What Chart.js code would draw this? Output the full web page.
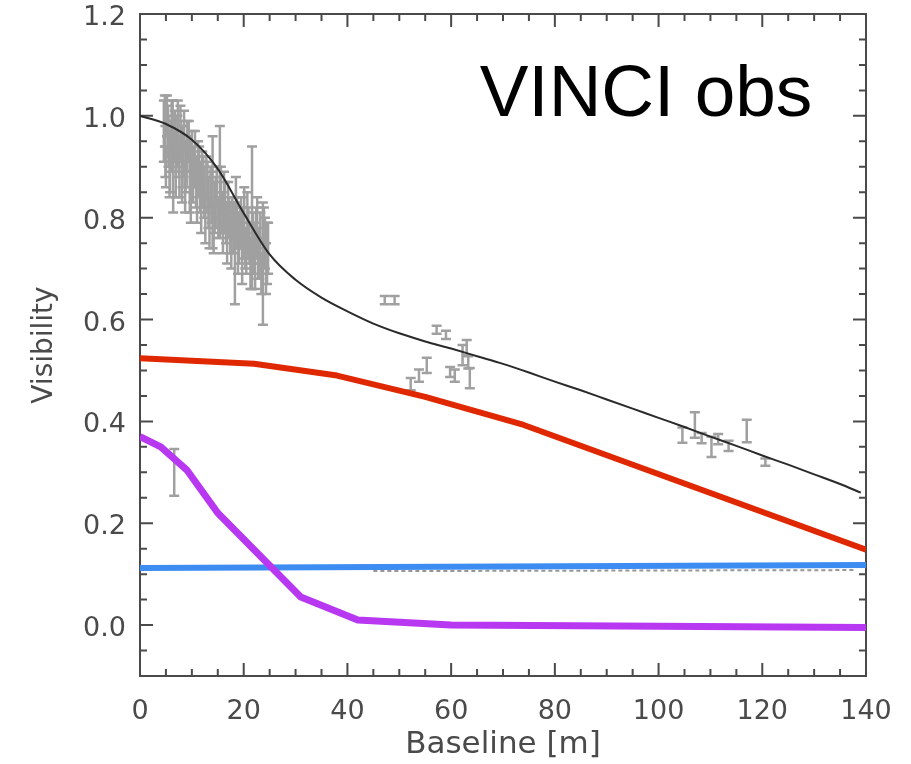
<!DOCTYPE html>
<html>
<head>
<meta charset="utf-8">
<script src="https://cdn.jsdelivr.net/npm/chart.js@4.4.1/dist/chart.umd.min.js"></script>
<style>
  html, body { margin: 0; padding: 0; background: #fff; }
  #wrap { width: 911px; height: 764px; }
</style>
</head>
<body>
<div id="wrap"><canvas id="chart" width="911" height="764"></canvas></div>
<script>
// model curve (black)
var modelX = [0, 5, 10, 15, 20, 25, 30, 35, 40, 45, 50, 55, 60, 65, 70, 75, 80, 85, 90, 95, 100, 105, 110, 115, 120, 125, 130, 135, 139];
var modelY = [1.0, 0.984, 0.953, 0.896, 0.809, 0.728, 0.678, 0.643, 0.616, 0.592, 0.573, 0.557, 0.543, 0.528, 0.513, 0.496, 0.478,
              0.461, 0.443, 0.425, 0.407, 0.389, 0.37, 0.352, 0.333, 0.315, 0.296, 0.277, 0.26];

// red component
var redX = [0, 22, 38, 55, 74, 140];
var redY = [0.524, 0.513, 0.49, 0.448, 0.393, 0.148];

// purple component
var purpleX = [0, 4, 9, 15, 31, 42, 60, 140];
var purpleY = [0.37, 0.35, 0.305, 0.22, 0.055, 0.01, 0.0, -0.005];

// blue component
var blueX = [0, 140];
var blueY = [0.112, 0.118];

// faint dotted curve under the blue line
var dotX = [45, 138];
var dotY = [0.106, 0.108];

// VINCI observations: baseline, visibility, error
var obsX = [4.6, 4.9, 5.2, 5.5, 5.8, 6.1, 6.4, 6.7, 7.0, 7.3, 7.6, 7.9, 8.2, 8.5, 8.8, 9.1, 9.6, 10.0, 10.4, 10.8,
            11.2, 11.6, 12.0, 12.4, 12.8, 13.2, 13.6, 14.0, 14.4, 14.8, 15.4, 15.8, 16.2, 16.6, 17.0, 17.4, 17.8, 18.3, 18.7, 19.1,
            19.5, 19.9, 20.3, 20.7, 21.1, 21.6, 22.0, 22.4, 22.8, 23.2, 23.7, 24.1, 24.5,
            4.8, 5.0, 5.4, 5.7, 6.0, 6.3, 6.9, 7.2, 7.5, 7.8, 8.1, 8.4, 8.7, 9.0, 9.4, 9.8, 10.2, 10.6, 11.0, 11.4,
            11.8, 12.2, 12.6, 13.0, 13.4, 13.8, 14.2, 14.6, 15.1, 15.6, 16.0, 16.4, 16.8, 17.2, 17.6, 18.0, 18.5, 18.9, 19.3, 19.7,
            20.1, 20.5, 20.9, 21.3, 21.8, 22.2, 22.6, 23.0, 23.4, 23.9, 24.3, 24.7,
            6.6,
            47.2, 49.1, 52.2, 53.8, 55.3, 57.2, 59.0, 59.8, 60.7, 62.2, 63.0, 63.3, 63.6,
            104.6, 107.0, 108.3, 110.2, 111.5, 113.5, 117.0, 120.6];
var obsY = [0.97, 0.93, 1.0, 0.95, 0.91, 0.98, 0.90, 0.96, 0.93, 0.99, 0.89, 0.95, 0.92, 0.97, 0.90, 0.94, 0.88, 0.93, 0.90, 0.87,
            0.91, 0.86, 0.89, 0.85, 0.88, 0.83, 0.86, 0.85, 0.82, 0.86, 0.87, 0.81, 0.84, 0.79, 0.82, 0.78, 0.80, 0.73, 0.79, 0.76,
            0.80, 0.77, 0.74, 0.79, 0.75, 0.80, 0.74, 0.77, 0.72, 0.76, 0.71, 0.75, 0.73,
            0.99, 0.90, 0.97, 0.88, 0.94, 1.0, 0.89, 0.95, 0.92, 0.98, 0.88, 0.93, 0.86, 0.91, 0.95, 0.84, 0.88, 0.93, 0.84, 0.89,
            0.82, 0.87, 0.80, 0.86, 0.79, 0.84, 0.78, 0.83, 0.80, 0.85, 0.77, 0.82, 0.76, 0.80, 0.75, 0.78, 0.83, 0.74, 0.78, 0.72,
            0.80, 0.73, 0.77, 0.71, 0.76, 0.70, 0.79, 0.73, 0.69, 0.77, 0.70, 0.74,
            0.30,
            0.638, 0.638, 0.473, 0.49, 0.51, 0.58, 0.57, 0.497, 0.49, 0.53, 0.545, 0.516, 0.485,
            0.373, 0.393, 0.367, 0.35, 0.365, 0.352, 0.381, 0.32];
var obsErr = [0.06, 0.05, 0.04, 0.05, 0.06, 0.05, 0.09, 0.05, 0.04, 0.04, 0.05, 0.04, 0.06, 0.04, 0.05, 0.05, 0.07, 0.04, 0.04, 0.05,
              0.04, 0.05, 0.04, 0.05, 0.04, 0.05, 0.04, 0.11, 0.05, 0.04, 0.11, 0.04, 0.05, 0.04, 0.05, 0.05, 0.04, 0.10, 0.05, 0.05,
              0.04, 0.05, 0.04, 0.06, 0.04, 0.14, 0.05, 0.05, 0.04, 0.05, 0.12, 0.05, 0.06,
              0.05, 0.04, 0.05, 0.04, 0.05, 0.03, 0.05, 0.05, 0.04, 0.04, 0.05, 0.05, 0.05, 0.05, 0.04, 0.05, 0.05, 0.04, 0.05, 0.05,
              0.05, 0.05, 0.05, 0.05, 0.05, 0.05, 0.05, 0.05, 0.04, 0.05, 0.04, 0.05, 0.05, 0.04, 0.05, 0.05, 0.05, 0.05, 0.04, 0.05,
              0.06, 0.04, 0.05, 0.05, 0.05, 0.04, 0.05, 0.05, 0.04, 0.05, 0.05, 0.05,
              0.046,
              0.008, 0.008, 0.012, 0.012, 0.015, 0.008, 0.008, 0.01, 0.012, 0.02, 0.015, 0.012, 0.02,
              0.015, 0.025, 0.01, 0.02, 0.01, 0.01, 0.022, 0.007];

var xTicks = [0, 20, 40, 60, 80, 100, 120, 140];
var yTicks = [0.0, 0.2, 0.4, 0.6, 0.8, 1.0, 1.2];

function pts(xs, ys) {
    var out = [];
    for (var i = 0; i < xs.length; i++) out.push({x: xs[i], y: ys[i]});
    return out;
}

// error bars for the observations, under the model lines
var errorBars = {
    id: 'errorBars',
    beforeDatasetsDraw: function (chart) {
        var ctx = chart.ctx, sx = chart.scales.x, sy = chart.scales.y;
        ctx.save();
        ctx.strokeStyle = '#a0a0a0';
        ctx.lineWidth = 2.5;
        for (var i = 0; i < obsX.length; i++) {
            var px = sx.getPixelForValue(obsX[i]);
            var top = sy.getPixelForValue(obsY[i] + obsErr[i]);
            var bot = sy.getPixelForValue(obsY[i] - obsErr[i]);
            ctx.beginPath();
            ctx.moveTo(px, top); ctx.lineTo(px, bot);
            ctx.moveTo(px - 5, top); ctx.lineTo(px + 5, top);
            ctx.moveTo(px - 5, bot); ctx.lineTo(px + 5, bot);
            ctx.stroke();
        }
        ctx.restore();
    }
};

// box frame with inward ticks on all four sides, plus the label
var frame = {
    id: 'frame',
    beforeDatasetsDraw: function (chart) {
        var ctx = chart.ctx, a = chart.chartArea;
        var sx = chart.scales.x, sy = chart.scales.y;
        ctx.save();
        ctx.strokeStyle = '#4a4a4a';
        ctx.lineWidth = 2;
        ctx.strokeRect(a.left, a.top, a.right - a.left, a.bottom - a.top);
        ctx.beginPath();
        for (var v = 0; v <= 140; v += 5) {
            var len = (v % 20 === 0) ? 13 : 7;
            var p = sx.getPixelForValue(v);
            ctx.moveTo(p, a.bottom); ctx.lineTo(p, a.bottom - len);
            ctx.moveTo(p, a.top); ctx.lineTo(p, a.top + len);
        }
        for (var k = -2; k <= 24; k++) {
            var val = k * 0.05;
            var len2 = (k % 4 === 0) ? 13 : 7;
            var q = sy.getPixelForValue(val);
            ctx.moveTo(a.left, q); ctx.lineTo(a.left + len2, q);
            ctx.moveTo(a.right, q); ctx.lineTo(a.right - len2, q);
        }
        ctx.stroke();
        ctx.restore();
    },
    afterDraw: function (chart) {
        var ctx = chart.ctx, sx = chart.scales.x, sy = chart.scales.y;
        ctx.save();
        ctx.fillStyle = '#000';
        ctx.font = '73px "Liberation Sans", Arial, sans-serif';
        ctx.textAlign = 'left';
        ctx.textBaseline = 'alphabetic';
        ctx.fillText('VINCI obs', sx.getPixelForValue(65.5), sy.getPixelForValue(1.0));
        ctx.restore();
    }
};

var tickFont = {family: '"DejaVu Sans", sans-serif', size: 27};

new Chart(document.getElementById('chart'), {
    type: 'line',
    data: {
        datasets: [
            {data: pts(purpleX, purpleY), borderColor: '#b838f2', borderWidth: 7, pointRadius: 0, tension: 0, borderJoinStyle: 'round'},
            {data: pts(blueX, blueY), borderColor: '#3d8cf2', borderWidth: 6, pointRadius: 0, tension: 0},
            {data: pts(dotX, dotY), borderColor: 'rgba(80,80,80,0.6)', borderWidth: 2, borderDash: [4, 3], pointRadius: 0},
            {data: pts(redX, redY), borderColor: '#e02800', borderWidth: 6, pointRadius: 0, tension: 0, borderJoinStyle: 'round'},
            {data: pts(modelX, modelY), borderColor: '#2a2a2a', borderWidth: 2, pointRadius: 0, cubicInterpolationMode: 'monotone'}
        ]
    },
    options: {
        responsive: false,
        animation: false,
        layout: {autoPadding: false, padding: {left: 0, right: 45, top: 14, bottom: 0}},
        plugins: {legend: {display: false}, tooltip: {enabled: false}},
        scales: {
            x: {
                type: 'linear', min: 0, max: 140,
                afterFit: function (s) { s.height = 88; s.paddingLeft = 0; s.paddingRight = 0; },
                afterBuildTicks: function (s) { s.ticks = xTicks.map(function (v) { return {value: v}; }); },
                grid: {display: false, drawTicks: false},
                border: {display: false},
                ticks: {color: '#4a4a4a', font: tickFont, padding: 20, maxRotation: 0, autoSkip: false},
                title: {display: true, text: 'Baseline [m]', color: '#4a4a4a',
                        font: {family: '"DejaVu Sans", sans-serif', size: 31}, padding: {top: 0, bottom: 0}}
            },
            y: {
                type: 'linear', min: -0.1, max: 1.2,
                afterFit: function (s) { s.width = 140; s.paddingTop = 0; s.paddingBottom = 0; },
                afterBuildTicks: function (s) { s.ticks = yTicks.map(function (v) { return {value: v}; }); },
                grid: {display: false, drawTicks: false},
                border: {display: false},
                ticks: {color: '#4a4a4a', font: tickFont, padding: 14, labelOffset: 4,
                        callback: function (v) { return Number(v).toFixed(1); }},
                title: {display: true, text: 'Visibility', color: '#4a4a4a',
                        font: {family: '"DejaVu Sans", sans-serif', size: 28}, padding: {top: 28, bottom: 0}}
            }
        }
    },
    plugins: [errorBars, frame]
});
</script>
</body>
</html>
